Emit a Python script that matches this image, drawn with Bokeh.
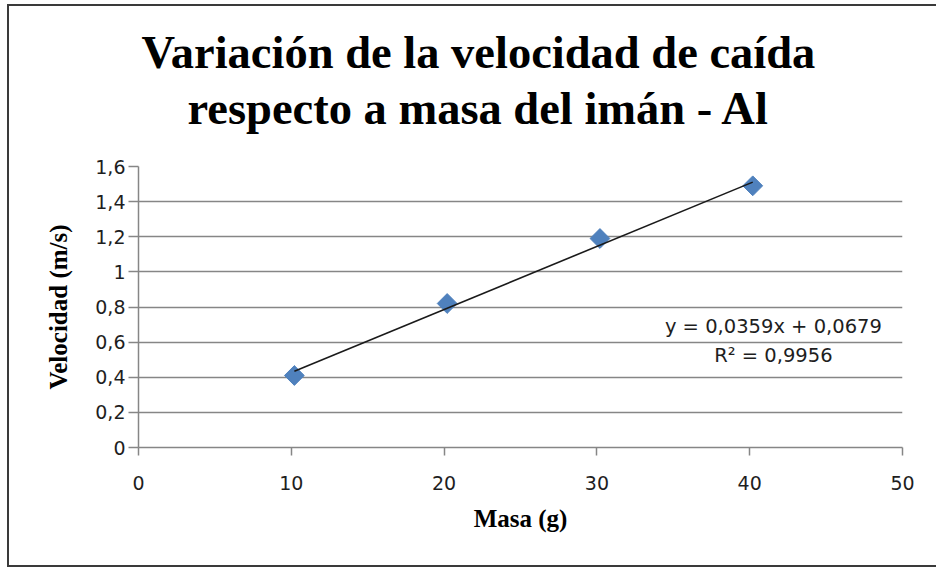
import numpy as np
from bokeh.plotting import figure
from bokeh.models import Range1d, FixedTicker, Label, Title, InlineStyleSheet
from bokeh.embed import file_html
from bokeh.resources import INLINE

# ---- data ----
title_lines = ["Variación de la velocidad de caída", "respecto a masa del imán - Al"]
x_title = "Masa (g)"
y_title = "Velocidad (m/s)"
masses = [10.2, 20.2, 30.2, 40.2]
velocities = [0.41, 0.82, 1.19, 1.49]
trend_slope = 0.0359
trend_intercept = 0.0679
r_squared = 0.9956
x_ticks = [0, 10, 20, 30, 40, 50]
x_tick_labels = ["0", "10", "20", "30", "40", "50"]
y_ticks = [0, 0.2, 0.4, 0.6, 0.8, 1.0, 1.2, 1.4, 1.6]
y_tick_labels = ["0", "0,2", "0,4", "0,6", "0,8", "1", "1,2", "1,4", "1,6"]

W, H = 936, 568
GRID = "#868686"
SERIF = "Liberation Serif"
SANS = "DejaVu Sans"

p = figure(width=W, height=H, output_backend="svg", toolbar_location=None,
           x_range=Range1d(0, 50), y_range=Range1d(0, 1.6),
           min_border_left=138, min_border_right=34,
           min_border_top=166, min_border_bottom=121)
p.outline_line_color = None
p.background_fill_color = "white"
p.border_fill_color = "white"

# outer chart border (left, top and bottom edges only; right edge lies off-page)
p.stylesheets = [InlineStyleSheet(css="""
:host { position: relative; overflow: hidden; }
:host::after {
  content: ''; position: absolute; left: 7px; top: 4px; width: 1000px; height: 563px;
  border-left: 2px solid #3a3a3a; border-top: 2px solid #3a3a3a;
  border-bottom: 2px solid #3a3a3a; border-right: 0 none transparent;
  box-sizing: border-box; pointer-events: none; z-index: 10;
}
""")]

# title: two lines, second added first (closest to plot)
p.add_layout(Title(text=title_lines[1], align="left", offset=49, standoff=66,
                   text_font=SERIF, text_font_style="bold", text_font_size="46.5px",
                   text_color="black"), "above")
p.add_layout(Title(text=title_lines[0], align="left", offset=3, standoff=-60,
                   text_font=SERIF, text_font_style="bold", text_font_size="46.5px",
                   text_color="black"), "above")

# grid
p.xgrid.visible = False
p.ygrid.ticker = FixedTicker(ticks=y_ticks)
p.ygrid.grid_line_color = GRID
p.ygrid.grid_line_width = 1.5

# axes
for ax in (p.xaxis[0], p.yaxis[0]):
    ax.axis_line_color = GRID
    ax.axis_line_width = 1.5
    ax.major_tick_line_color = GRID
    ax.major_tick_line_width = 1.5
    ax.major_tick_in = 0
    ax.minor_tick_line_color = None
    ax.major_label_text_font = SANS
    ax.major_label_text_font_size = "19px"
    ax.major_label_text_color = "#1e1e1e"
    ax.axis_label_text_font = SERIF
    ax.axis_label_text_font_style = "bold"
    ax.axis_label_text_font_size = "25px"
    ax.axis_label_text_color = "black"

p.xaxis.ticker = FixedTicker(ticks=x_ticks)
p.xaxis.major_label_overrides = dict(zip(x_ticks, x_tick_labels))
p.xaxis.major_tick_out = 8
p.xaxis.major_label_standoff = 20
p.xaxis.axis_label = x_title
p.xaxis.axis_label_standoff = 12

p.yaxis.ticker = FixedTicker(ticks=y_ticks)
p.yaxis.major_label_overrides = dict(zip(y_ticks, y_tick_labels))
p.yaxis.major_tick_out = 10
p.yaxis.major_label_standoff = 3
p.yaxis.axis_label = y_title
p.yaxis.axis_label_standoff = 20

# data points
p.scatter(masses, velocities, marker="square", angle=np.pi / 4, size=14,
          fill_color="#4F81BD", line_color="#4F81BD")

# linear trendline
tx = [masses[0], masses[-1]]
ty = [trend_slope * m + trend_intercept for m in tx]
p.line(tx, ty, line_color="#1a1a1a", line_width=1.6)

def comma(v):
    return f"{v:.4f}".replace(".", ",")

eq_text = f"y = {comma(trend_slope)}x + {comma(trend_intercept)}"
r2_text = f"R² = {comma(r_squared)}"
p.add_layout(Label(x=41.55, y=0.69, text=eq_text, text_align="center",
                   text_baseline="alphabetic", text_font=SANS,
                   text_font_size="19.5px", text_color="#1e1e1e"))
p.add_layout(Label(x=41.55, y=0.525, text=r2_text, text_align="center",
                   text_baseline="alphabetic", text_font=SANS,
                   text_font_size="19.5px", text_color="#1e1e1e"))

open("out.html", "w").write(file_html(p, INLINE))
